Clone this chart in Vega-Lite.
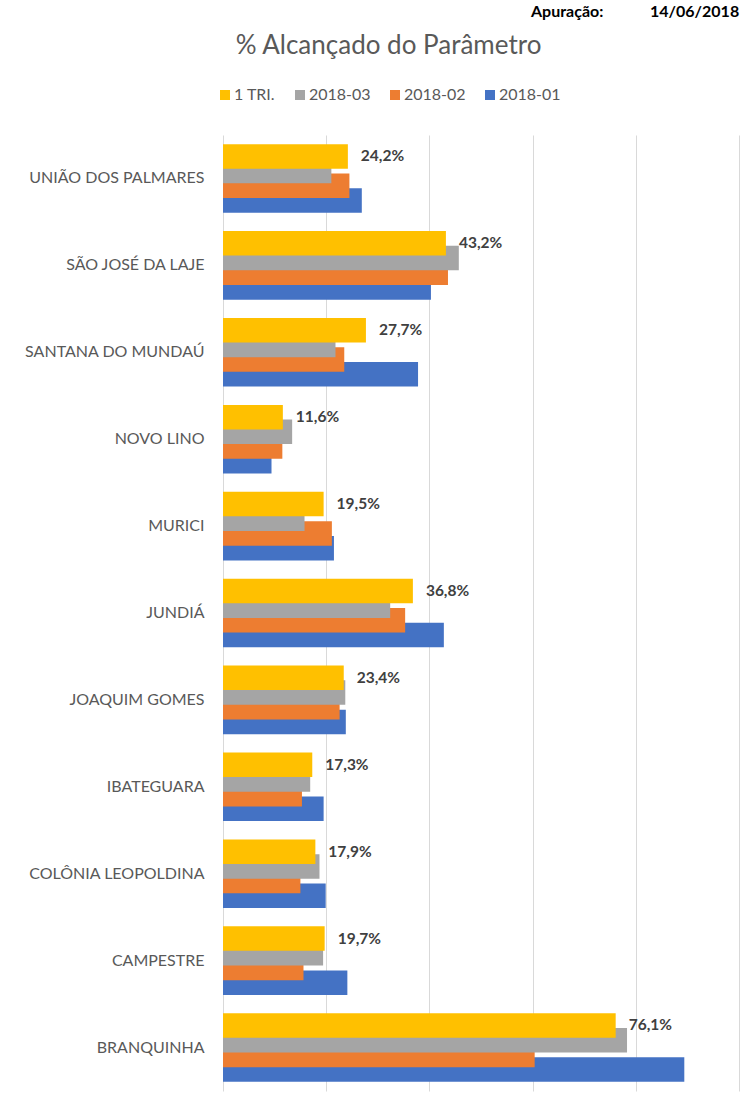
{
  "$schema": "https://vega.github.io/schema/vega-lite/v6.json",
  "width": 516,
  "height": 956,
  "autosize": {"type": "none"},
  "padding": {"left": 223, "top": 135, "right": 11, "bottom": 12},
  "background": "white",
  "title": {
    "text": "Apuração:\u00a0\u00a0\u00a0\u00a0\u00a0\u00a0\u00a0\u00a0\u00a0\u00a0\u00a0\u00a014/06/2018",
    "anchor": "start",
    "frame": "group",
    "dx": 308,
    "dy": 5,
    "font": "Lato",
    "fontSize": 16,
    "fontWeight": "bold",
    "color": "#000000",
    "baseline": "alphabetic",
    "offset": 4
  },
  "data": {
    "values": [
      {"municipio": "UNIÃO DOS PALMARES", "serie": "2018-01", "valor": 0.269},
      {"municipio": "SÃO JOSÉ DA LAJE", "serie": "2018-01", "valor": 0.403},
      {"municipio": "SANTANA DO MUNDAÚ", "serie": "2018-01", "valor": 0.378},
      {"municipio": "NOVO LINO", "serie": "2018-01", "valor": 0.094},
      {"municipio": "MURICI", "serie": "2018-01", "valor": 0.215},
      {"municipio": "JUNDIÁ", "serie": "2018-01", "valor": 0.428},
      {"municipio": "JOAQUIM GOMES", "serie": "2018-01", "valor": 0.238},
      {"municipio": "IBATEGUARA", "serie": "2018-01", "valor": 0.195},
      {"municipio": "COLÔNIA LEOPOLDINA", "serie": "2018-01", "valor": 0.199},
      {"municipio": "CAMPESTRE", "serie": "2018-01", "valor": 0.241},
      {"municipio": "BRANQUINHA", "serie": "2018-01", "valor": 0.894},
      {"municipio": "UNIÃO DOS PALMARES", "serie": "2018-02", "valor": 0.245},
      {"municipio": "SÃO JOSÉ DA LAJE", "serie": "2018-02", "valor": 0.436},
      {"municipio": "SANTANA DO MUNDAÚ", "serie": "2018-02", "valor": 0.235},
      {"municipio": "NOVO LINO", "serie": "2018-02", "valor": 0.115},
      {"municipio": "MURICI", "serie": "2018-02", "valor": 0.211},
      {"municipio": "JUNDIÁ", "serie": "2018-02", "valor": 0.353},
      {"municipio": "JOAQUIM GOMES", "serie": "2018-02", "valor": 0.226},
      {"municipio": "IBATEGUARA", "serie": "2018-02", "valor": 0.153},
      {"municipio": "COLÔNIA LEOPOLDINA", "serie": "2018-02", "valor": 0.150},
      {"municipio": "CAMPESTRE", "serie": "2018-02", "valor": 0.156},
      {"municipio": "BRANQUINHA", "serie": "2018-02", "valor": 0.604},
      {"municipio": "UNIÃO DOS PALMARES", "serie": "2018-03", "valor": 0.210},
      {"municipio": "SÃO JOSÉ DA LAJE", "serie": "2018-03", "valor": 0.457},
      {"municipio": "SANTANA DO MUNDAÚ", "serie": "2018-03", "valor": 0.218},
      {"municipio": "NOVO LINO", "serie": "2018-03", "valor": 0.134},
      {"municipio": "MURICI", "serie": "2018-03", "valor": 0.158},
      {"municipio": "JUNDIÁ", "serie": "2018-03", "valor": 0.324},
      {"municipio": "JOAQUIM GOMES", "serie": "2018-03", "valor": 0.237},
      {"municipio": "IBATEGUARA", "serie": "2018-03", "valor": 0.169},
      {"municipio": "COLÔNIA LEOPOLDINA", "serie": "2018-03", "valor": 0.187},
      {"municipio": "CAMPESTRE", "serie": "2018-03", "valor": 0.194},
      {"municipio": "BRANQUINHA", "serie": "2018-03", "valor": 0.783},
      {"municipio": "UNIÃO DOS PALMARES", "serie": "1 TRI.", "valor": 0.242},
      {"municipio": "SÃO JOSÉ DA LAJE", "serie": "1 TRI.", "valor": 0.432},
      {"municipio": "SANTANA DO MUNDAÚ", "serie": "1 TRI.", "valor": 0.277},
      {"municipio": "NOVO LINO", "serie": "1 TRI.", "valor": 0.116},
      {"municipio": "MURICI", "serie": "1 TRI.", "valor": 0.195},
      {"municipio": "JUNDIÁ", "serie": "1 TRI.", "valor": 0.368},
      {"municipio": "JOAQUIM GOMES", "serie": "1 TRI.", "valor": 0.234},
      {"municipio": "IBATEGUARA", "serie": "1 TRI.", "valor": 0.173},
      {"municipio": "COLÔNIA LEOPOLDINA", "serie": "1 TRI.", "valor": 0.179},
      {"municipio": "CAMPESTRE", "serie": "1 TRI.", "valor": 0.197},
      {"municipio": "BRANQUINHA", "serie": "1 TRI.", "valor": 0.761}
    ]
  },
  "encoding": {
    "y": {
      "field": "municipio",
      "type": "nominal",
      "scale": {
        "domain": ["UNIÃO DOS PALMARES", "SÃO JOSÉ DA LAJE", "SANTANA DO MUNDAÚ", "NOVO LINO", "MURICI", "JUNDIÁ", "JOAQUIM GOMES", "IBATEGUARA", "COLÔNIA LEOPOLDINA", "CAMPESTRE", "BRANQUINHA"],
        "paddingInner": 0,
        "paddingOuter": 0
      },
      "axis": {
        "title": null,
        "ticks": false,
        "domain": false,
        "labelFont": "Lato",
        "labelFontSize": 16,
        "labelColor": "#595959",
        "labelPadding": 19
      }
    },
    "x": {
      "field": "valor",
      "type": "quantitative",
      "stack": null,
      "scale": {"domain": [0, 1], "nice": false},
      "axis": {
        "orient": "top",
        "values": [0, 0.2, 0.4, 0.6, 0.8, 1],
        "grid": true,
        "gridColor": "#d9d9d9",
        "gridWidth": 1,
        "labels": false,
        "ticks": false,
        "domain": false,
        "title": "% Alcançado do Parâmetro",
        "titleFont": "Lato",
        "titleFontSize": 26,
        "titleFontWeight": "normal",
        "titleColor": "#595959",
        "titleX": 165,
        "titleY": -82,
        "titleAlign": "center",
        "titleBaseline": "alphabetic",
        "titleAnchor": null
      }
    },
    "yOffset": {
      "field": "serie",
      "type": "nominal",
      "scale": {
        "domain": ["1 TRI.", "2018-03", "2018-02", "2018-01"],
        "paddingInner": 0,
        "paddingOuter": 0.956
      }
    }
  },
  "layer": [
    {
      "mark": {"type": "bar", "height": 24.5},
      "encoding": {
        "color": {
          "field": "serie",
          "type": "nominal",
          "scale": {
            "domain": ["1 TRI.", "2018-03", "2018-02", "2018-01"],
            "range": ["#FFC000", "#A5A5A5", "#ED7D31", "#4472C4"]
          },
          "legend": {
            "orient": "none",
            "legendX": -6,
            "legendY": -48,
            "direction": "horizontal",
            "title": null,
            "symbolType": "square",
            "symbolSize": 100,
            "symbolStrokeWidth": 0,
            "labelFont": "Lato",
            "labelFontSize": 16,
            "labelColor": "#595959",
            "labelOffset": 1,
            "columnPadding": 16
          }
        }
      }
    },
    {
      "transform": [{"filter": "datum.serie === '1 TRI.'"}],
      "mark": {
        "type": "text",
        "align": "left",
        "baseline": "middle",
        "dx": 13,
        "font": "Lato",
        "fontSize": 15.5,
        "fontWeight": "bold",
        "color": "#404040"
      },
      "encoding": {
        "text": {"field": "valor", "type": "quantitative", "format": ".1%"}
      }
    }
  ],
  "config": {
    "view": {"stroke": null},
    "locale": {
      "number": {"decimal": ",", "thousands": ".", "grouping": [3], "currency": ["R$", ""]}
    }
  }
}
